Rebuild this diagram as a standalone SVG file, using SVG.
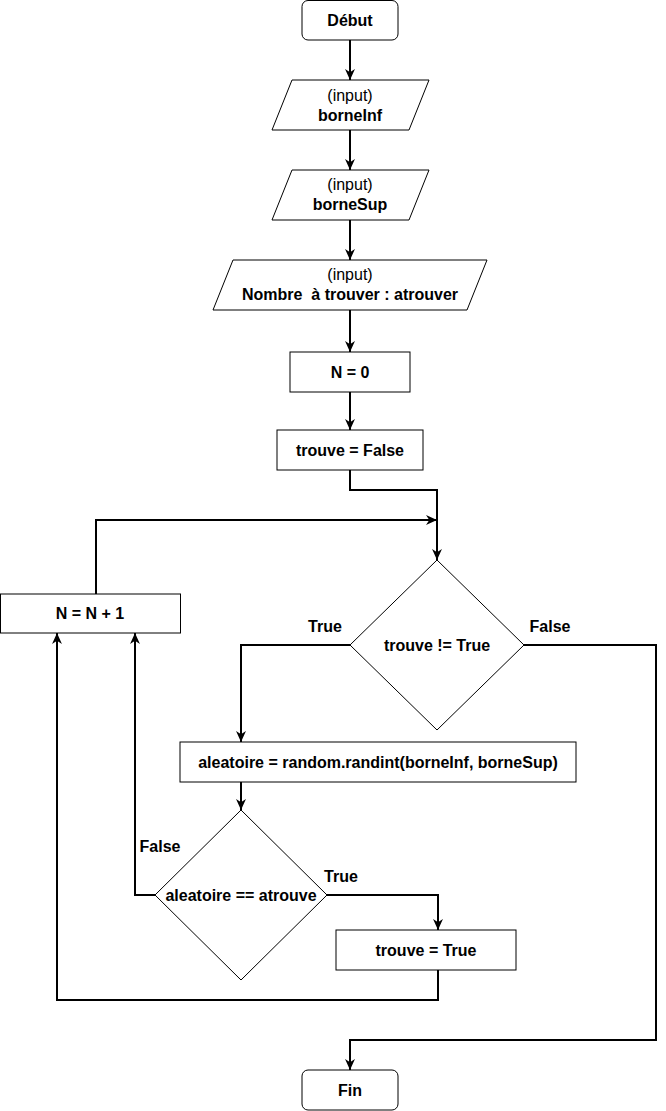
<svg xmlns="http://www.w3.org/2000/svg" width="666" height="1111" viewBox="0 0 666 1111">
<style>
.s{fill:#fff;stroke:#000;stroke-width:1}
.c{fill:none;stroke:#000;stroke-width:2}
text{font-family:"Liberation Sans",Arial,sans-serif;font-size:16px;text-anchor:middle;fill:#000;white-space:pre}
.b{font-weight:bold}
</style>
<defs>
<marker id="a" viewBox="0 0 10 10" refX="10" refY="5" markerWidth="11" markerHeight="11" orient="auto" markerUnits="userSpaceOnUse">
<path d="M0,0.5 L10,5 L0,9.5 L3,5 Z" fill="#000"/>
</marker>
</defs>
<rect width="666" height="1111" fill="#fff"/>
<g id="connectors">
<path class="c" d="M350,40 V80" marker-end="url(#a)"/>
<path class="c" d="M350,130 V170" marker-end="url(#a)"/>
<path class="c" d="M350,220 V260" marker-end="url(#a)"/>
<path class="c" d="M350,310 V352" marker-end="url(#a)"/>
<path class="c" d="M350,392 V430" marker-end="url(#a)"/>
<path class="c" d="M350,470 V490 H437 V560" marker-end="url(#a)"/>
<path class="c" d="M96,594 V520 H437" marker-end="url(#a)"/>
<path class="c" d="M350,645 H241 V742" marker-end="url(#a)"/>
<path class="c" d="M524,645 H656 V1040 H350 V1070" marker-end="url(#a)"/>
<path class="c" d="M241,782 V810" marker-end="url(#a)"/>
<path class="c" d="M327,895 H438 V930" marker-end="url(#a)"/>
<path class="c" d="M438,970 V1000 H57 V633" marker-end="url(#a)"/>
<path class="c" d="M155,895 H135 V633" marker-end="url(#a)"/>
</g>
<g id="debut"><rect class="s" x="302" y="0.5" width="96" height="39.5" rx="6"/><text class="b" x="350" y="26">Début</text></g>
<g id="borneInf"><polygon class="s" points="292,80 429,80 409,130 272,130"/><text x="350" y="101">(input)</text><text class="b" x="350" y="121">borneInf</text></g>
<g id="borneSup"><polygon class="s" points="292,170 429,170 409,220 272,220"/><text x="350" y="190">(input)</text><text class="b" x="350" y="210">borneSup</text></g>
<g id="atrouver"><polygon class="s" points="233,260 487,260 467,310 213,310"/><text x="350" y="280">(input)</text><text class="b" x="350" y="300" xml:space="preserve">Nombre  à trouver : atrouver</text></g>
<g id="n0"><rect class="s" x="290" y="352" width="120" height="40"/><text class="b" x="350" y="378">N = 0</text></g>
<g id="trouveFalse"><rect class="s" x="277" y="430" width="146" height="40"/><text class="b" x="350" y="456">trouve = False</text></g>
<g id="cond1"><polygon class="s" points="437,560 524,645 437,730 350,645"/><text class="b" x="437" y="651">trouve != True</text></g>
<g id="incr"><rect class="s" x="0.5" y="594" width="180" height="39"/><text class="b" x="90" y="619">N = N + 1</text></g>
<g id="alea"><rect class="s" x="180" y="742" width="396" height="40"/><text class="b" x="378" y="768">aleatoire = random.randint(borneInf, borneSup)</text></g>
<g id="cond2"><polygon class="s" points="241,810 327,895 241,980 155,895"/><text class="b" x="241" y="901">aleatoire == atrouve</text></g>
<g id="trouveTrue"><rect class="s" x="336" y="930" width="180" height="40"/><text class="b" x="426" y="956">trouve = True</text></g>
<g id="fin"><rect class="s" x="302" y="1070" width="96" height="40" rx="6"/><text class="b" x="350" y="1096">Fin</text></g>
<g id="labels">
<text class="b" x="325" y="632">True</text>
<text class="b" x="550" y="632">False</text>
<text class="b" x="160" y="852">False</text>
<text class="b" x="341" y="882">True</text>
</g>
</svg>
